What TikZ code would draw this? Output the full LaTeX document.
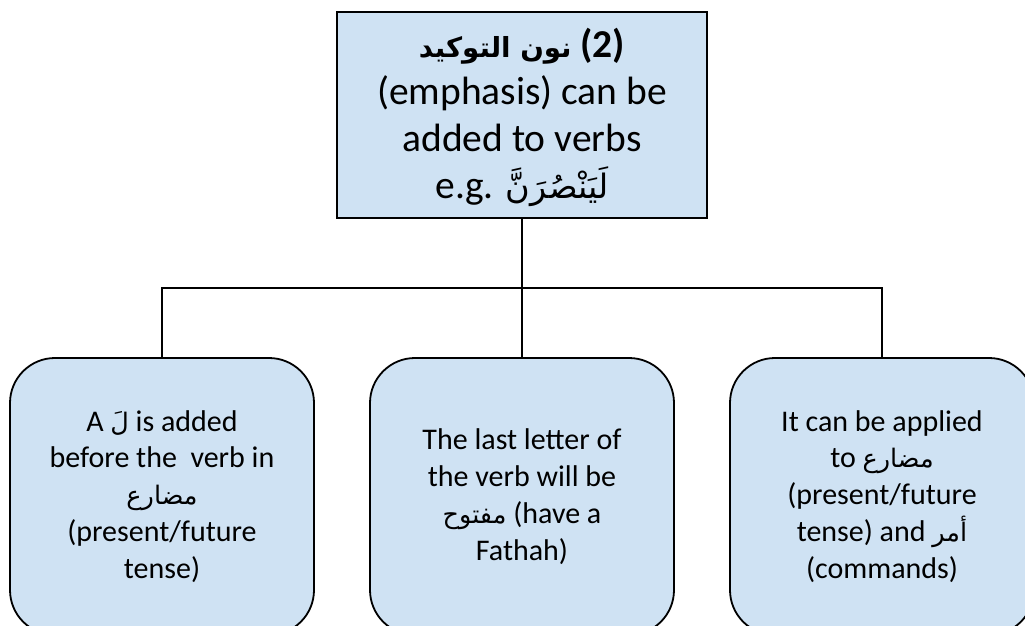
\documentclass[tikz,border=0pt]{standalone}
\usepackage{fontspec}
\setmainfont{Carlito}
\newfontfamily\arabicfont[Script=Arabic,Scale=0.85]{DejaVu Sans}
\newfontfamily\arabicboldfont[Script=Arabic,Scale=0.7]{DejaVu Sans Bold}
\TeXXeTstate=1
\newcommand\artxt[1]{{\arabicfont\beginR #1\endR}}
\newcommand\artxtbold[1]{{\arabicboldfont\beginR #1\endR}}
\definecolor{boxblue}{RGB}{207,226,243}
\begin{document}
\begin{tikzpicture}[x=1pt,y=-1pt,
  topbox/.style={draw=black, line width=2.2pt, fill=boxblue,
    minimum width=370pt, minimum height=206pt, align=center,
    font=\fontsize{39.5}{47}\selectfont, inner sep=0pt},
  leafbox/.style={draw=black, line width=1.8pt, fill=boxblue,
    rounded corners=45pt, minimum width=304pt, minimum height=277pt,
    align=center, font=\fontsize{30}{36.9}\selectfont, inner sep=0pt},
  link/.style={draw=black, line width=1.8pt}]
\useasboundingbox (0,0) rectangle (1025,626);
\clip (0,0) rectangle (1025,626);

% root: what the emphatic nun is
\node[topbox] (root) at (522,115) {};
\node[align=center, font=\fontsize{39.5}{47}\selectfont, inner sep=0pt]
  (roottext) at (522,117) {%
  \artxtbold{نون التوكيد} \textbf{(2)}\\
  (emphasis) can be\\
  added to verbs\\
  e.g. \artxt{لَيَنْصُرَنَّ}};

% the three rules
\node[leafbox] (lam) at (162,496.5) {%
  A \artxt{لَ} is added\\
  before the\ \ verb in\\
  \artxt{مضارع}\\
  (present/future\\
  tense)};
\node[leafbox] (fatha) at (522,496.5) {%
  The last letter of\\
  the verb will be\\
  \artxt{مفتوح} (have a\\
  Fathah)};
\node[leafbox] (tenses) at (882,496.5) {%
  It can be applied\\
  to \artxt{مضارع}\\
  (present/future\\
  tense) and \artxt{أمر}\\
  (commands)};

% tree connectors
\coordinate (fork) at (522,288);
\draw[link] (root.south) -- (fork);
\draw[link] (fork) -| (lam.north);
\draw[link] (fork) -- (fatha.north);
\draw[link] (fork) -| (tenses.north);
\end{tikzpicture}
\end{document}
